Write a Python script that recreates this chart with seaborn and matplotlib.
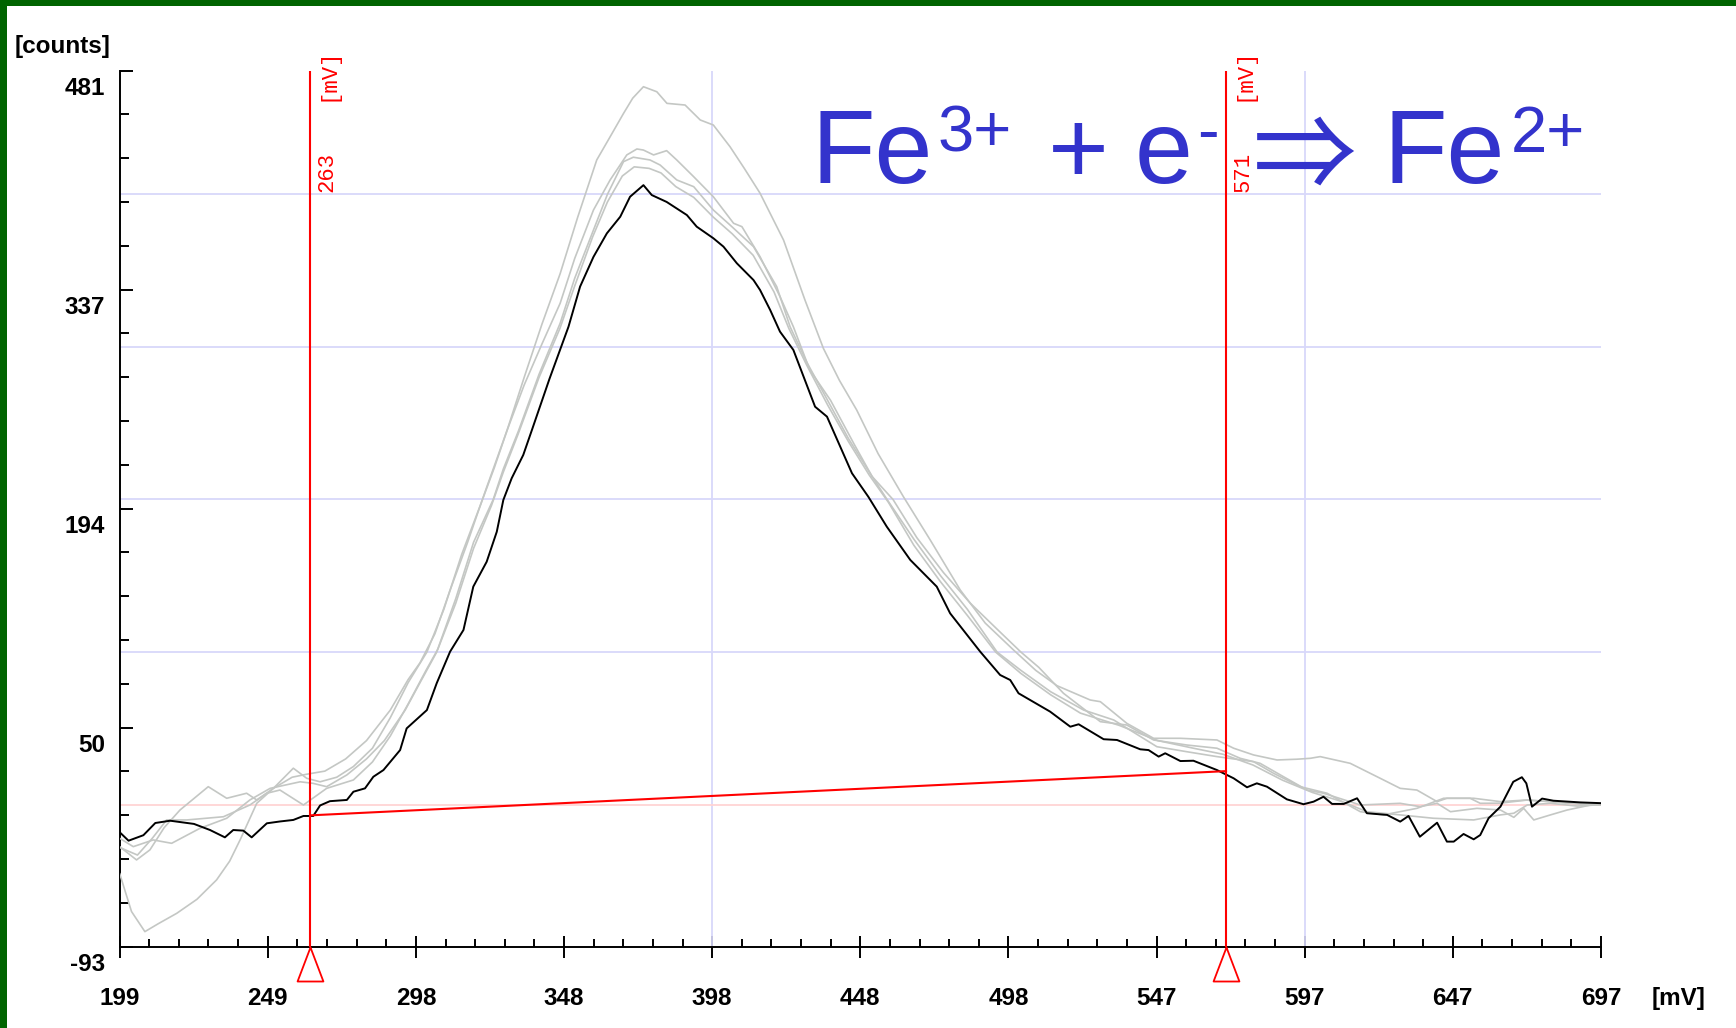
import numpy as np
import pandas as pd
import matplotlib
matplotlib.use("Agg")
import matplotlib.pyplot as plt
import matplotlib.transforms as mtransforms
from matplotlib.font_manager import FontProperties, fontManager
from matplotlib.patches import Rectangle
from matplotlib.textpath import TextPath
import seaborn as sns

W, H, DPI = 1736, 1028, 100

# ---------------- data: (potential [mV], signal [counts]) ----------------
trace_main = np.array([
    (199, -18), (202, -23.6), (207, -20), (211, -12), (216, -10.5), (224, -12.6),
    (229.4, -16.6), (234.4, -21.4), (237.2, -16.6), (240.6, -17), (243.4, -21.4),
    (248.5, -12.2), (252.9, -11), (257.4, -10), (260.8, -7.4), (264.1, -7.4),
    (266.4, -0.5), (269.7, 2.3), (275.4, 3.1), (277.6, 8.5), (281.5, 10.7),
    (284.3, 18.3), (287.7, 22.7), (293.3, 35.8), (295.5, 50), (302.3, 62),
    (305.6, 79.6), (310.1, 100.3), (314.6, 114.5), (317.9, 142.9), (322.4, 159.2),
    (325.8, 178.9), (328, 199.7), (330.8, 213.9), (334.7, 229.2), (337.6, 245.5),
    (343.5, 279), (349.9, 313.2), (353.8, 339.5), (358.3, 359), (362.8, 374.4),
    (367.3, 385.3), (370.6, 398.4), (375.1, 406), (377.9, 399.5), (382.9, 395),
    (389.7, 386.4), (393, 378.8), (398.6, 371.2), (402, 365.7), (406.5, 354.8),
    (412.1, 343.8), (414.3, 337.3), (417.7, 324.2), (421, 310), (425.5, 298),
    (432.8, 260.8), (436.8, 254.3), (445.2, 217.2), (450.7, 201.8), (456.9, 182.2),
    (464.8, 160.4), (473.7, 142.9), (478.2, 125.4), (488.3, 100.3), (495, 85),
    (498.4, 81.7), (501.2, 73), (511.8, 61), (518.6, 51.1), (521.4, 52.7),
    (529.8, 42.9), (534.3, 42.4), (542.1, 36.3), (544.9, 35.8), (548.3, 31.5),
    (550.5, 33.7), (555.6, 28.6), (560, 28.8), (567.9, 22.7), (573.5, 17.3),
    (578, 11.4), (581.3, 14), (584.7, 11.8), (591.4, 3.5), (597, 0.3), (600.4, 2),
    (603.7, 5.2), (606.6, 0.5), (610.5, 0.5), (615, 4.2), (618.3, -5.6),
    (625.1, -6.7), (629.5, -11.1), (632.3, -7.4), (636.1, -21), (641.9, -11.8),
    (645.2, -24.2), (647.5, -24.2), (650.8, -19.2), (654.2, -22.7), (656.4, -19.9),
    (659.2, -8.9), (663.2, -1.3), (667.5, 15), (670.4, 18), (671.9, 14),
    (673.8, -1.3), (677.2, 4), (681, 2.6), (690, 1.5), (697, 1),
])

trace_a = np.array([
    (199, -27.5), (204.7, -36.2), (209.2, -29.6), (214, -15), (219.3, -3.5),
    (228.8, 11.8), (235, 4.2), (241.7, 7.5), (245.1, 3.1), (250.7, 10.7), (257, 18),
    (262, 20), (268, 22), (275, 30), (282, 42), (290, 62), (296, 82), (300, 93),
    (305, 112), (310, 140), (316, 172), (319, 189), (322.4, 208), (329.2, 245),
    (335, 280), (341, 315), (347.1, 348), (353, 385), (359.4, 422.5), (363.9, 437.7),
    (368.4, 453), (371.5, 463), (375.1, 470.5), (379.6, 467.2), (383, 459.6),
    (389.1, 458.5), (394.2, 448.7), (398.6, 445.4), (404.2, 431.2), (409, 417),
    (414.3, 400.7), (422.2, 370), (429.4, 330.7), (435.6, 299), (441, 278),
    (446.8, 258.6), (454, 230), (462.5, 201.8), (471.5, 173.5), (481.6, 140.7),
    (490, 119), (499.5, 101.4), (507, 88), (514.1, 78), (525.3, 68.6), (528.7, 67.5),
    (537.6, 53.3), (546.6, 43.5), (555.6, 43.5), (567.9, 42.4), (573.5, 37),
    (580.2, 32.6), (588.1, 29.3), (594.8, 29.8), (599.3, 30.4), (602.6, 31.5),
    (612.7, 27.1), (623.9, 16.2), (629.5, 10.7), (635.1, 9.6), (641.9, 2),
    (645.2, 4.2), (653, 4.2), (656.4, 0.9), (663, 1), (672, 3), (680, 2),
    (690, 0.5), (697, 0),
])

trace_b = np.array([
    (199, -45), (203, -70), (207.5, -83.2), (212, -78), (218.2, -71.2), (225, -62),
    (231.6, -49.3), (236, -37), (239.5, -23.1), (245.1, 0.9), (250.7, 10.7),
    (257.4, 23.9), (261.9, 17.3), (266.4, 15), (272, 18), (277.6, 25), (284, 37),
    (290, 57), (296, 80), (302.3, 100), (308, 128), (314, 164), (321, 200),
    (325, 221), (329.2, 245), (335, 275), (341, 302), (347.1, 328.6), (352, 358),
    (358.3, 389.7), (363.9, 409.4), (369.5, 425.8), (372.9, 429.7), (375.1, 429),
    (378.5, 425.8), (382.9, 428.6), (386.3, 422.5), (392, 411.5), (398.6, 398.4),
    (405.4, 381), (408.2, 378.8), (414.3, 359.1), (421, 333), (425.5, 313.2),
    (431, 285), (438, 265), (446, 236), (452, 215), (459, 200), (467, 175),
    (476, 152), (485, 132), (494, 115), (502, 100), (508, 90), (516.3, 73),
    (528.7, 54.4), (537.6, 52.2), (546.6, 42.4), (557.8, 39.1), (567.9, 37),
    (575.7, 30.4), (582.4, 27.1), (590.3, 18.3), (598.2, 9.6), (603.7, 7.5),
    (616.1, -0.2), (629.5, 0.9), (636.2, -1.3), (641.9, 0.9), (646.4, -4.6),
    (655.3, -2.4), (663.2, -3.5), (667.7, -8.3), (671, -2.4), (674.4, -10),
    (680, -6.7), (685.6, -3.5), (694, 0), (697, 0),
])

trace_c = np.array([
    (199, -22), (203.6, -27.5), (210.3, -23.1), (216.5, -25.3), (226, -15.5),
    (235, -8.9), (242.8, 3.1), (249.6, 10.7), (259.7, 15), (264, 14), (268.6, 11.8),
    (275.4, 19.5), (282, 30), (288, 42), (295, 62), (300, 80), (305.6, 100),
    (312, 135), (318, 172), (324.6, 200), (328, 220), (333.1, 245), (340, 282),
    (347.1, 315.5), (352, 345), (358.3, 376.6), (363, 400), (368.4, 421.4),
    (371.7, 424.3), (377.3, 422.5), (380.7, 419.2), (386.3, 409.4), (392, 405),
    (398.6, 389.7), (404.2, 379.9), (412.1, 365.7), (419.9, 339.5), (424.4, 313.2),
    (430, 290), (437, 265), (444, 240), (451, 218), (457, 200), (466, 174),
    (475, 150), (484, 128), (494, 100), (502, 88), (512, 74), (523.1, 62),
    (533.2, 55.5), (547.7, 38), (557.8, 34.7), (567.9, 31.5), (580.2, 28.2),
    (586.9, 20.6), (595.9, 11.8), (604.9, 7.5), (616.1, -4.6), (623.9, -6.7),
    (635.1, -2.4), (644.1, 4.2), (654.2, 4.2), (663.2, 2), (672.2, 3.1), (680, 2),
    (690, 0.5), (697, 0),
])

trace_d = np.array([
    (199, -28), (205, -33), (210, -22), (214.8, -10), (221.6, -10), (233.9, -7.9),
    (242.8, -0.2), (248.5, 7.5), (252.9, 9.6), (260.8, -0.2), (268.6, 10.7),
    (277.6, 16.2), (284, 28), (290, 45), (296, 66), (302, 88), (306, 102),
    (312, 132), (318, 168), (324, 196), (328, 218), (333, 243), (340, 280),
    (347, 312), (352, 340), (358, 372), (363, 395), (368, 412), (372, 418),
    (377, 417), (381, 414), (386, 405), (392, 398), (398.6, 385), (405, 374),
    (412, 360), (419, 336), (424, 312), (430, 288), (437, 262), (444, 238),
    (451, 216), (457.5, 198), (466, 170), (475, 146), (484, 124), (493.5, 100),
    (502, 86), (512, 72), (522, 60), (535, 52), (548, 42), (560, 37), (570, 33),
    (580, 26), (590, 16), (600, 8), (610, 2), (618.3, -4.6), (629.5, -6.7),
    (640.7, -8.9), (654.2, -10), (663.2, -6.7), (667.7, -5.6), (672.2, -0.2),
    (680, 0.9), (689, -0.9), (697, 0),
])

# integration window markers and baseline
marker_mv = [263, 571]
marker_labels = ["263", "571"]
baseline_mv = [263, 571]
baseline_counts = [-7, 22]

# axis ticks and grid
x_ticks = [199, 248.8, 298.6, 348.4, 398.2, 448, 497.8, 547.6, 597.4, 647.2, 697]
x_tick_labels = ["199", "249", "298", "348", "398", "448", "498", "547", "597", "647", "697"]
y_ticks = [-93, 50.5, 194, 337.5, 481]
y_tick_labels = ["-93", "50", "194", "337", "481"]
grid_counts = [100, 200, 300, 400]
grid_mv = [398.2, 597.4]

# ---------------- styling ----------------
sns.set_theme(style="white")
installed = {f.name for f in fontManager.ttflist}


def first_font(*names):
    for n in names:
        if n in installed:
            return n
    return "DejaVu Sans"


SANS = first_font("Liberation Sans", "Arimo", "DejaVu Sans")
MONO = first_font("Liberation Mono", "DejaVu Sans Mono")
ARROW = first_font("Noto Sans CJK JP", "DejaVu Sans")
plt.rcParams["font.family"] = [SANS, "DejaVu Sans"]

GRAY = "#c4c7c4"
LAVENDER = "#d8d8fa"
ZERO_PINK = "#ffd4d4"
RED = "#ff0000"
BLUE = "#3333cc"
GREEN = "#006400"
TICK_FS = 17.5

fig = plt.figure(figsize=(W / DPI, H / DPI), dpi=DPI, facecolor="white")

ax_left, ax_right, ax_top, ax_bottom = 119.6, 1601.0, 70.7, 946.6
ax = fig.add_axes([ax_left / W, 1 - ax_bottom / H,
                   (ax_right - ax_left) / W, (ax_bottom - ax_top) / H])
ax.set_facecolor("white")

# ---------------- curves ----------------
frames = []
for name, arr in [("main", trace_main), ("a", trace_a), ("b", trace_b),
                  ("c", trace_c), ("d", trace_d)]:
    frames.append(pd.DataFrame({"mV": arr[:, 0], "counts": arr[:, 1], "trace": name}))
df = pd.concat(frames, ignore_index=True)

repeats = df[df["trace"] != "main"]
sns.lineplot(data=repeats, x="mV", y="counts", hue="trace",
             palette={k: GRAY for k in ["a", "b", "c", "d"]},
             estimator=None, sort=False, lw=1.2, legend=False, ax=ax, zorder=3)
sns.lineplot(data=df[df["trace"] == "main"], x="mV", y="counts", color="black",
             estimator=None, sort=False, lw=1.4, ax=ax, zorder=4)

# grid, zero line
ax.hlines(grid_counts, x_ticks[0], x_ticks[-1], color=LAVENDER, lw=1.3, zorder=1)
ax.vlines(grid_mv, y_ticks[0], y_ticks[-1], color=LAVENDER, lw=1.3, zorder=1)
ax.axhline(0, color=ZERO_PINK, lw=1.3, zorder=1)

# integration window and baseline
ax.plot(baseline_mv, baseline_counts, color=RED, lw=1.5, zorder=5)
ax.vlines(marker_mv, y_ticks[0], y_ticks[-1], color=RED, lw=1.5, zorder=5)

tri = [(0, 1), (-0.76, -1), (0.76, -1), (0, 1)]
tri_trans = ax.get_xaxis_transform() + mtransforms.ScaledTranslation(
    0, -17 / DPI, fig.dpi_scale_trans)
ax.plot(marker_mv, [0] * len(marker_mv), transform=tri_trans, linestyle="none",
        marker=tri, ms=24.5, mfc="white", mec=RED, mew=1.3, clip_on=False, zorder=6)

for mv, lab in zip(marker_mv, marker_labels):
    ax.annotate("[mV]", xy=(mv, y_ticks[-1]), xytext=(18, -4), textcoords="offset pixels",
                rotation=90, ha="center", va="center", family=MONO, fontsize=16,
                color=RED, annotation_clip=False, zorder=6)
    ax.annotate(lab, xy=(mv, y_ticks[-1]), xytext=(17, -101), textcoords="offset pixels",
                rotation=90, ha="center", va="center", family=MONO, fontsize=16,
                color=RED, annotation_clip=False, zorder=6)

# ---------------- axes ----------------
ax.set_xlim(x_ticks[0], x_ticks[-1])
ax.set_ylim(y_ticks[0], y_ticks[-1])
ax.set_xlabel("")
ax.set_ylabel("")
for side in ["top", "right"]:
    ax.spines[side].set_visible(False)
for side in ["left", "bottom"]:
    ax.spines[side].set_color("black")
    ax.spines[side].set_linewidth(1.4)

ax.set_xticks(x_ticks)
ax.set_xticks(np.linspace(x_ticks[0], x_ticks[-1], 5 * (len(x_ticks) - 1) + 1), minor=True)
ax.set_yticks(y_ticks)
ax.set_yticks(np.linspace(y_ticks[0], y_ticks[-1], 5 * (len(y_ticks) - 1) + 1), minor=True)
ax.tick_params(axis="x", which="major", direction="inout", length=16, width=1.4,
               color="black", bottom=True, labelbottom=False)
ax.tick_params(axis="x", which="minor", direction="in", length=6, width=1.4,
               color="black", bottom=True)
ax.tick_params(axis="y", which="major", direction="in", length=9, width=1.4,
               color="black", left=True, labelleft=False)
ax.tick_params(axis="y", which="minor", direction="in", length=6.5, width=1.4,
               color="black", left=True)

for v, lab in zip(x_ticks, x_tick_labels):
    ax.annotate(lab, xy=(v, 0), xycoords=("data", "axes fraction"), xytext=(0, -40.5),
                textcoords="offset pixels", ha="center", va="top", fontsize=TICK_FS,
                fontweight="bold", color="black", annotation_clip=False)
for v, lab in zip(y_ticks, y_tick_labels):
    ax.annotate(lab, xy=(0, v), xycoords=("axes fraction", "data"), xytext=(-14.5, -6),
                textcoords="offset pixels", ha="right", va="top", fontsize=TICK_FS,
                fontweight="bold", color="black", annotation_clip=False)

ax.annotate("[mV]", xy=(1, 0), xycoords="axes fraction", xytext=(50.5, -40.5),
            textcoords="offset pixels", ha="left", va="top", fontsize=TICK_FS,
            fontweight="bold", color="black", annotation_clip=False)
fig.text(15 / W, 1 - 35 / H, "[counts]", ha="left", va="top", fontsize=TICK_FS,
         fontweight="bold", color="black")


# ---------------- reaction equation ----------------
def place(s, glyph_left, baseline, size_pt, family):
    fp = FontProperties(family=family)
    ext = TextPath((0, 0), s, size=1, prop=fp).get_extents()
    size_px = size_pt * DPI / 72
    x0 = glyph_left - ext.x0 * size_px
    fig.text(x0 / W, 1 - baseline / H, s, ha="left", va="baseline",
             fontsize=size_pt, family=family, color=BLUE)


MAIN, SUP = 75, 47
place("Fe", 820.4, 183.3, MAIN, SANS)
place("3+", 940.3, 151.7, SUP, SANS)
place("+", 1052.6, 183.3, MAIN, SANS)
place("e", 1139.0, 183.3, MAIN, SANS)
place("-", 1200.5, 151.7, SUP, SANS)
place("Fe", 1391.8, 183.3, MAIN, SANS)
place("2+", 1514.0, 151.7, SUP, SANS)

# double arrow sized to its box
arrow_fp = FontProperties(family=ARROW)
aext = TextPath((0, 0), "\u21d2", size=1, prop=arrow_fp).get_extents()
arrow_px = 97.0 / aext.width
arrow_base = 185.0 + aext.y0 * arrow_px
fig.text((1256.6 - aext.x0 * arrow_px) / W, 1 - arrow_base / H, "\u21d2", ha="left",
         va="baseline", fontsize=arrow_px * 72 / DPI, family=ARROW, color=BLUE)

# window frame
fig.patches.append(Rectangle((0, 1 - 6 / H), 1, 6 / H, transform=fig.transFigure,
                             facecolor=GREEN, edgecolor="none", zorder=10))
fig.patches.append(Rectangle((0, 0), 7.3 / W, 1, transform=fig.transFigure,
                             facecolor=GREEN, edgecolor="none", zorder=10))

fig.savefig("out.png", dpi=DPI, facecolor="white")
